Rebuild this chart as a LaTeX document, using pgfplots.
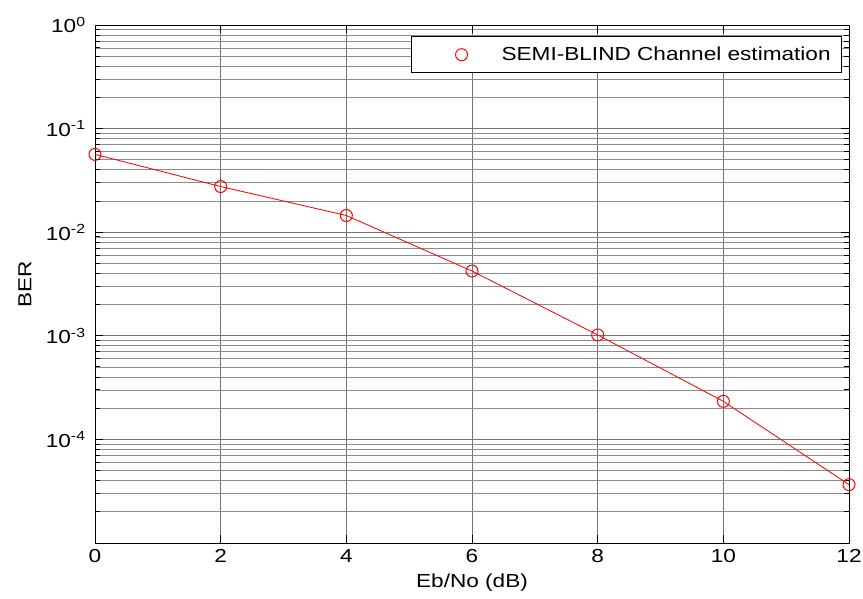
\documentclass[border=0pt]{standalone}
\usepackage{fontspec}
\setmainfont{Liberation Sans}[FakeStretch=1.2]
\usepackage{pgfplots}
\pgfplotsset{compat=1.18}
\begin{document}
\fontsize{11.3}{13}\selectfont
\begin{tikzpicture}
\begin{axis}[
  scale only axis,
  width=452.4pt, height=310.8pt,
  ymode=log,
  xmin=0, xmax=12, ymin=1e-5, ymax=1,
  xtick={0,2,4,6,8,10,12},
  ytick={1e-5,1e-4,1e-3,1e-2,1e-1,1},
  yticklabels={,10\textsuperscript{-4},10\textsuperscript{-3},10\textsuperscript{-2},10\textsuperscript{-1},10\textsuperscript{0}},
  /pgf/number format/assume math mode=true,
  xticklabel style={font=\fontsize{11.3}{13}\selectfont},
  yticklabel style={font=\fontsize{11.3}{13}\selectfont, xshift=-1.5pt},
  tick align=inside,
  major tick length=5pt, minor tick length=3pt,
  tick style={black, line width=0.6pt},
  grid=both,
  major grid style={black!55, line width=0.5pt},
  minor grid style={black!45, line width=0.45pt},
  axis line style={black, line width=0.6pt},
  xlabel={Eb/No (dB)}, ylabel={BER},
  xlabel style={at={(axis description cs:0.5,-0.077)}, anchor=center, font=\fontsize{11.3}{13}\selectfont},
  ylabel style={at={(axis description cs:-0.093,0.5)}, anchor=center, font=\fontsize{11.3}{13}\selectfont},
  legend style={at={(axis description cs:0.9907,0.9788)}, anchor=north east,
    draw=black, line width=0.6pt, inner xsep=4.5pt, inner ysep=4pt,
    font=\fontsize{11.3}{13}\selectfont},
  legend image code/.code={\path[draw=none] (-25.5pt,0pt) -- (22pt,0pt); \draw[#1] plot coordinates {(0pt,0pt)};},
]
\coordinate (sw) at (rel axis cs:0,0);
\coordinate (ne) at (rel axis cs:1,1);
\addplot[red, line width=0.5pt, forget plot] coordinates {
  (0,0.0564) (2,0.0276) (4,0.0145) (6,0.00422) (8,0.00102) (10,2.33e-4) (12,3.66e-5)
};
\addplot[red, only marks, mark=o, mark size=3.6pt, line width=0.6pt] coordinates {
  (0,0.0564) (2,0.0276) (4,0.0145) (6,0.00422) (8,0.00102) (10,2.33e-4) (12,3.66e-5)
};
\addlegendentry{SEMI-BLIND Channel estimation}
\end{axis}
\pgfresetboundingbox
\path[use as bounding box] ([shift={(-57pt,-33pt)}]sw) rectangle ([shift={(8.4pt,15pt)}]ne);
\end{tikzpicture}
\end{document}
